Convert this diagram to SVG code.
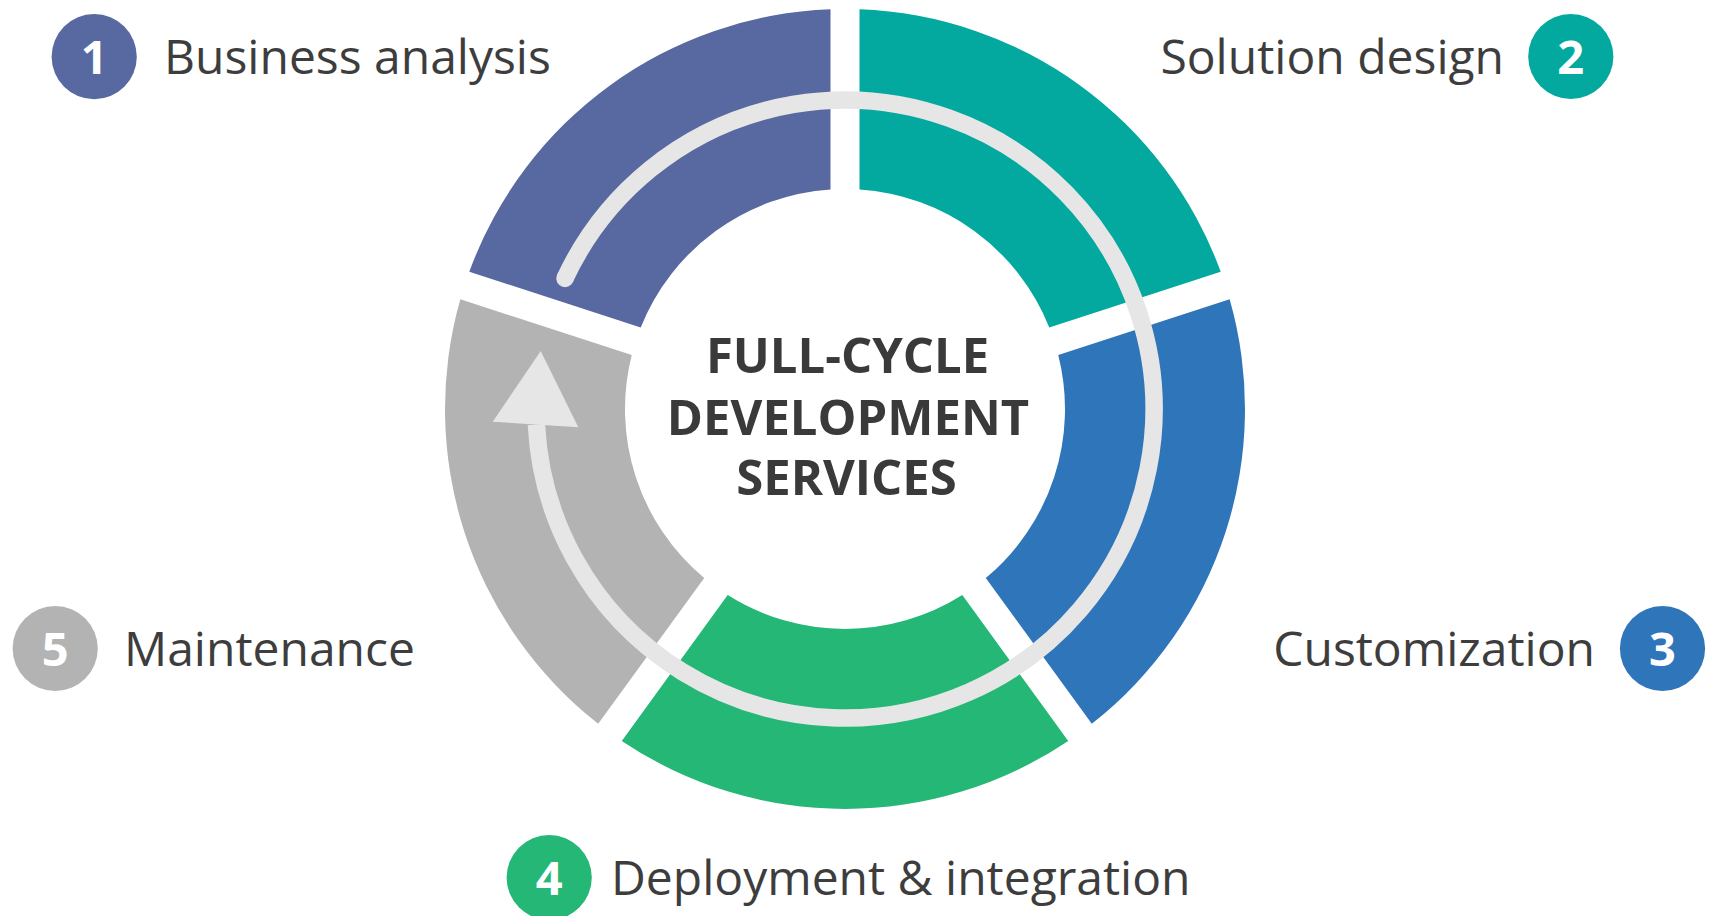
<svg xmlns="http://www.w3.org/2000/svg" width="1710" height="916" viewBox="0 0 1710 916">
  <style>
    .label { font-family: "Open Sans", "Liberation Sans", sans-serif; font-size: 48px; fill: #3d3d3d; }
    .num { font-family: "Open Sans", "Liberation Sans", sans-serif; font-size: 47px; font-weight: 700; fill: #ffffff; text-anchor: middle; }
    .title { font-family: "Open Sans", "Liberation Sans", sans-serif; font-size: 49px; font-weight: 700; fill: #3a3a3a; text-anchor: middle; }
    .track { fill: none; stroke: #e6e6e6; stroke-width: 17.5; }
  </style>
  <rect x="0" y="0" width="1710" height="916" fill="#ffffff"/>

  <g id="segment-solution-design">
    <path d="M859.5 9.26 A400 400 0 0 1 1220.69 271.69 L1049.3 327.38 A220 220 0 0 0 859.5 189.48 Z" fill="#03a99e"/>
  </g>
  <g id="segment-customization">
    <path d="M1229.65 299.27 A400 400 0 0 1 1091.81 723.78 L985.77 578.07 A220 220 0 0 0 1058.26 354.95 Z" fill="#2f75ba"/>
  </g>
  <g id="segment-deployment">
    <path d="M1068.22 740.92 A400 400 0 0 1 621.78 740.92 L727.69 595.12 A220 220 0 0 0 962.31 595.12 Z" fill="#25b775"/>
  </g>
  <g id="segment-maintenance">
    <path d="M598.19 723.78 A400 400 0 0 1 460.35 299.27 L631.74 354.95 A220 220 0 0 0 704.23 578.07 Z" fill="#b3b3b3"/>
  </g>
  <g id="segment-business-analysis">
    <path d="M469.31 271.69 A400 400 0 0 1 830.5 9.26 L830.5 189.48 A220 220 0 0 0 640.7 327.38 Z" fill="#5868a0"/>
  </g>

  <g id="connectors">
    <path class="track" d="M565 278.4 A309 309 0 1 1 536.4 424.6" stroke-linecap="butt"/>
    <circle cx="565" cy="278.4" r="8.75" fill="#e6e6e6"/>
    <polygon points="492.7,421.7 540.7,351 578.3,427.3" fill="#e6e6e6"/>
  </g>

  <g id="center-title">
    <text class="title" x="847.5" y="373">FULL-CYCLE</text>
    <text class="title" x="848" y="434.5">DEVELOPMENT</text>
    <text class="title" x="846.5" y="495">SERVICES</text>
  </g>

  <g id="step-1">
    <circle cx="94.2" cy="56.7" r="42.6" fill="#5868a0"/>
    <text class="num" x="94.2" y="73.5">1</text>
    <text class="label" x="164" y="73.5">Business analysis</text>
  </g>
  <g id="step-2">
    <circle cx="1570.8" cy="56.5" r="42.6" fill="#03a99e"/>
    <text class="num" x="1570.8" y="73.5">2</text>
    <text class="label" x="1504" y="73.5" text-anchor="end">Solution design</text>
  </g>
  <g id="step-3">
    <circle cx="1662.5" cy="648.5" r="42.6" fill="#2f75ba"/>
    <text class="num" x="1662.5" y="665.5">3</text>
    <text class="label" x="1595" y="665.5" text-anchor="end">Customization</text>
  </g>
  <g id="step-4">
    <circle cx="549.2" cy="877.5" r="42.6" fill="#25b775"/>
    <text class="num" x="549.2" y="894.5">4</text>
    <text class="label" x="611" y="894.5">Deployment &amp; integration</text>
  </g>
  <g id="step-5">
    <circle cx="55.2" cy="648.5" r="42.6" fill="#b3b3b3"/>
    <text class="num" x="55.2" y="665.5">5</text>
    <text class="label" x="124" y="665.5">Maintenance</text>
  </g>
</svg>
